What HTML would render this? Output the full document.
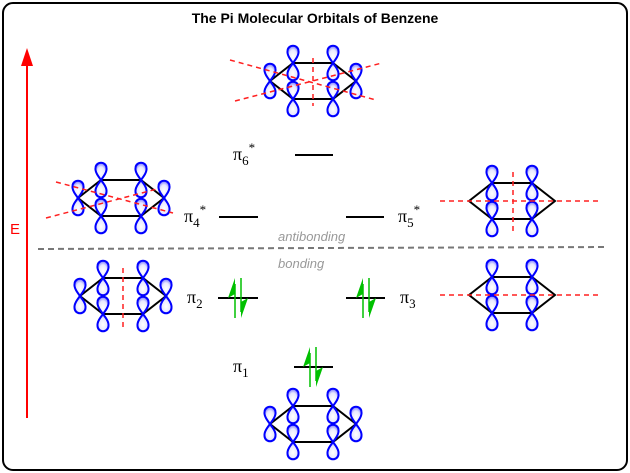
<!DOCTYPE html>
<html><head><meta charset="utf-8"><style>
html,body{margin:0;padding:0;background:#fff;}
svg{display:block;}
text{font-family:"Liberation Serif",serif;}
</style></head><body>
<svg width="630" height="473" viewBox="0 0 630 473" xmlns="http://www.w3.org/2000/svg">
<defs>
<radialGradient id="g" cx="0.5" cy="0.6" r="0.6">
<stop offset="0" stop-color="#ffffff"/><stop offset="0.6" stop-color="#e8e8ff"/><stop offset="1" stop-color="#7070ff"/>
</radialGradient>
<g id="lob">
<path d="M0,0 C-3,-4 -6,-8 -5.5,-12 C-5,-19 5,-19 5.5,-12 C6,-8 3,-4 0,0 Z" fill="url(#g)" stroke="#0000ff" stroke-width="2"/>
<path d="M0,0 C-3,4 -6,8 -5.5,12 C-5,19 5,19 5.5,12 C6,8 3,4 0,0 Z" fill="url(#g)" stroke="#0000ff" stroke-width="2"/>
</g>
<g id="hex">
<polygon points="-43,0 -20,-18 20,-18 43,0 20,18 -20,18" fill="none" stroke="#000" stroke-width="2"/>
</g>
<g id="ben6">
<use href="#hex"/>
<use href="#lob" x="-43" y="0"/><use href="#lob" x="43" y="0"/>
<use href="#lob" x="-20" y="-18"/><use href="#lob" x="20" y="-18"/>
<use href="#lob" x="-20" y="18"/><use href="#lob" x="20" y="18"/>
</g>
<g id="ben4">
<use href="#hex"/>
<use href="#lob" x="-20" y="-18"/><use href="#lob" x="20" y="-18"/>
<use href="#lob" x="-20" y="18"/><use href="#lob" x="20" y="18"/>
</g>
<g id="el">
<line x1="-3" y1="20" x2="-3" y2="-14" stroke="#00c000" stroke-width="1.5"/>
<polygon points="-3,-20 -10,0 -3,-4" fill="#00c000"/>
<line x1="3" y1="-20" x2="3" y2="14" stroke="#00c000" stroke-width="1.5"/>
<polygon points="3,20 10,0 3,4" fill="#00c000"/>
</g>
</defs>
<rect x="3" y="3" width="624" height="467" rx="10" fill="none" stroke="#000" stroke-width="2"/>
<text x="315" y="23" text-anchor="middle" font-weight="bold" font-size="14" style="font-family:'Liberation Sans',sans-serif">The Pi Molecular Orbitals of Benzene</text>
<line x1="27" y1="418" x2="27" y2="62" stroke="#ff0000" stroke-width="2"/>
<polygon points="27,48 21,66 33,66" fill="#ff0000"/>
<text x="10" y="234" fill="#ff0000" font-size="15" style="font-family:'Liberation Sans',sans-serif">E</text>
<line x1="38" y1="249" x2="608" y2="247" stroke="#777" stroke-width="2" stroke-dasharray="6,4"/>
<text x="278" y="241" fill="#999" font-size="13" font-style="italic" style="font-family:'Liberation Sans',sans-serif">antibonding</text>
<text x="278" y="268" fill="#999" font-size="13" font-style="italic" style="font-family:'Liberation Sans',sans-serif">bonding</text>
<use href="#ben6" x="313" y="81"/>
<use href="#ben6" x="121" y="198"/>
<use href="#ben6" x="123" y="296"/>
<use href="#ben4" x="512" y="201"/>
<use href="#ben4" x="512" y="295"/>
<use href="#ben6" x="313" y="424"/>
<g stroke="#ff2020" stroke-width="1.5" stroke-dasharray="5,4" fill="none">
<line x1="313" y1="58" x2="313" y2="106"/>
<line x1="230" y1="60" x2="376" y2="100"/>
<line x1="235" y1="101" x2="382" y2="63"/>
<line x1="56" y1="182" x2="173" y2="213"/>
<line x1="46" y1="218" x2="157" y2="189"/>
<line x1="123" y1="268" x2="123" y2="330"/>
<line x1="440" y1="201" x2="600" y2="201"/>
<line x1="513" y1="172" x2="513" y2="232"/>
<line x1="440" y1="295" x2="600" y2="295"/>
</g>
<g stroke="#000" stroke-width="2">
<line x1="295" y1="155" x2="333" y2="155"/>
<line x1="219" y1="217" x2="258" y2="217"/>
<line x1="346" y1="217" x2="384" y2="217"/>
<line x1="218" y1="298" x2="258" y2="298"/>
<line x1="346" y1="298" x2="385" y2="298"/>
<line x1="294" y1="367" x2="333" y2="367"/>
</g>
<use href="#el" x="238" y="298"/>
<use href="#el" x="366" y="298"/>
<use href="#el" x="313" y="367"/>
<g font-size="18">
<text x="233" y="160">π<tspan font-size="13" dy="5">6</tspan><tspan font-size="13" dy="-13">*</tspan></text>
<text x="184" y="222">π<tspan font-size="13" dy="5">4</tspan><tspan font-size="13" dy="-13">*</tspan></text>
<text x="398" y="222">π<tspan font-size="13" dy="5">5</tspan><tspan font-size="13" dy="-13">*</tspan></text>
<text x="187" y="303">π<tspan font-size="13" dy="5">2</tspan></text>
<text x="400" y="303">π<tspan font-size="13" dy="5">3</tspan></text>
<text x="233" y="372">π<tspan font-size="13" dy="5">1</tspan></text>
</g>
</svg>
</body></html>
